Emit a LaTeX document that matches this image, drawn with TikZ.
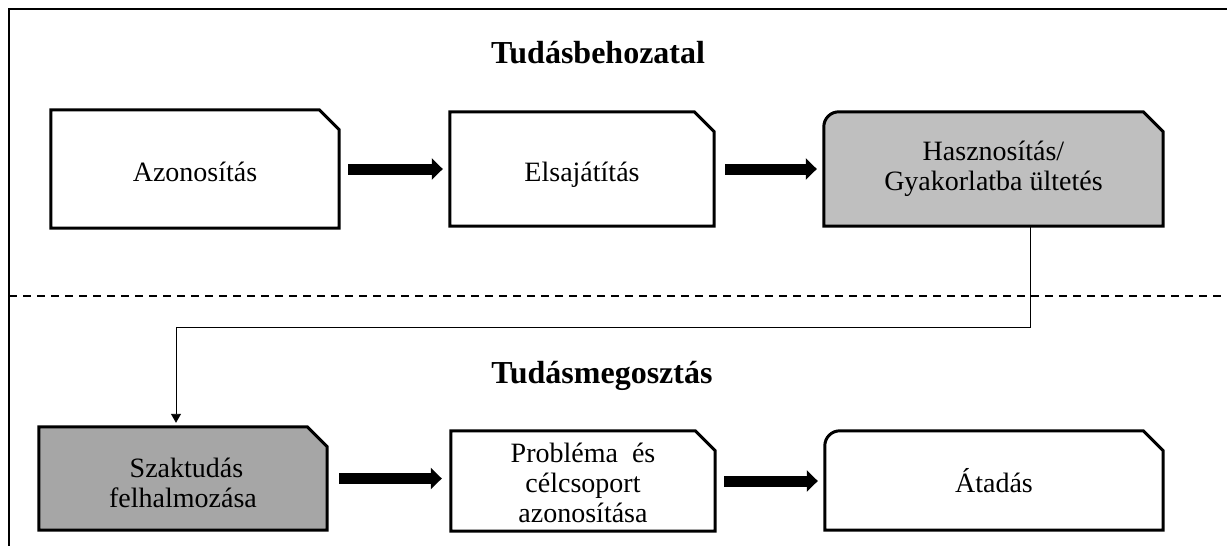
\documentclass[tikz,border=0pt]{standalone}
\usepackage{fontspec}
\setmainfont{Liberation Serif}
\usetikzlibrary{arrows.meta,calc}
\pgfdeclarelayer{background}
\pgfsetlayers{background,main}

% Outline of a stage box: chamfered top-right corner, optional rounded top-left corner.
% #1 node name, #2 fill colour, #3 top-left radius (0pt for a square corner)
\newcommand\stageoutline[3]{%
  \begin{pgfonlayer}{background}
    \draw[outline, fill=#2]
      (#1.south west) -- ([yshift=-#3]#1.north west)
      arc[start angle=180, end angle=90, radius=#3]
      -- ([xshift=-20pt]#1.north east) -- ([yshift=-20pt]#1.north east)
      -- (#1.south east) -- cycle;
  \end{pgfonlayer}}

\definecolor{lightfill}{RGB}{191,191,191}
\definecolor{darkfill}{RGB}{166,166,166}

\begin{document}
\begin{tikzpicture}[x=1pt, y=-1pt,
  stage/.style={align=center, font=\fontsize{28}{30}\selectfont, inner sep=0pt},
  oneline/.style={text height=30pt, text depth=6pt},
  heading/.style={font=\fontsize{32}{36}\selectfont\bfseries, anchor=base},
  outline/.style={line width=3pt, line join=miter},
  flow/.style={line width=11pt, -{Triangle[length=11pt,width=21pt]}},
  link/.style={line width=0.9pt, -{Triangle[length=9pt,width=10pt]}},
  frame/.style={line width=2pt},
  divider/.style={line width=1.8pt, dash pattern=on 8pt off 6pt},
]
\useasboundingbox (0,0) rectangle (1227,546);

% frame and section divider
\draw[frame] (9,546) -- (9,9) -- (1227,9);
\draw[divider] (9,296) -- (1227,296);

% section headings
\node[heading] (importTitle) at (598,63) {Tudásbehozatal};
\node[heading] (shareTitle) at (602,383) {Tudásmegosztás};

% upper row
\node[stage, oneline, minimum width=288pt, minimum height=118pt] (az) at (195,169) {Azonosítás};
\node[stage, oneline, minimum width=264pt, minimum height=114pt] (el) at (582,169) {Elsajátítás};
\node[stage, text height=50pt, text depth=8pt, minimum width=339pt, minimum height=114pt]
  (hz) at (993.5,169) {Hasznosítás/\\Gyakorlatba~ültetés};

% lower row
\node[stage, text height=62pt, text depth=5pt, minimum width=288pt, minimum height=103pt]
  (sz) at (183,478.5) {~Szaktudás\\felhalmozása};
\node[stage, text height=88pt, text depth=6pt, minimum width=264pt, minimum height=100pt]
  (pr) at (583,481) {Probléma~~és\\célcsoport\\azonosítása};
\node[stage, oneline, minimum width=338pt, minimum height=99pt] (at) at (994,480.5) {Átadás};

\stageoutline{az}{white}{0pt}
\stageoutline{el}{white}{0pt}
\stageoutline{hz}{lightfill}{15pt}
\stageoutline{sz}{darkfill}{0pt}
\stageoutline{pr}{white}{0pt}
\stageoutline{at}{white}{15pt}

% flow arrows
\draw[flow, shorten <=9pt, shorten >=7pt] (az.east) -- (az.east -| el.west);
\draw[flow, shorten <=11pt, shorten >=7pt] (el.east) -- (el.east -| hz.west);
\draw[flow, shorten <=12pt, shorten >=9pt] (sz.east) -- (sz.east -| pr.west);
\draw[flow, shorten <=9pt, shorten >=7pt] (pr.east) -- (pr.east -| at.west);

% hand-over from the upper to the lower row
\coordinate (drop) at (176,327);
\draw[link, shorten >=4pt] ([xshift=37pt]hz.south) |- (drop) -- (drop |- sz.north);
\end{tikzpicture}
\end{document}
